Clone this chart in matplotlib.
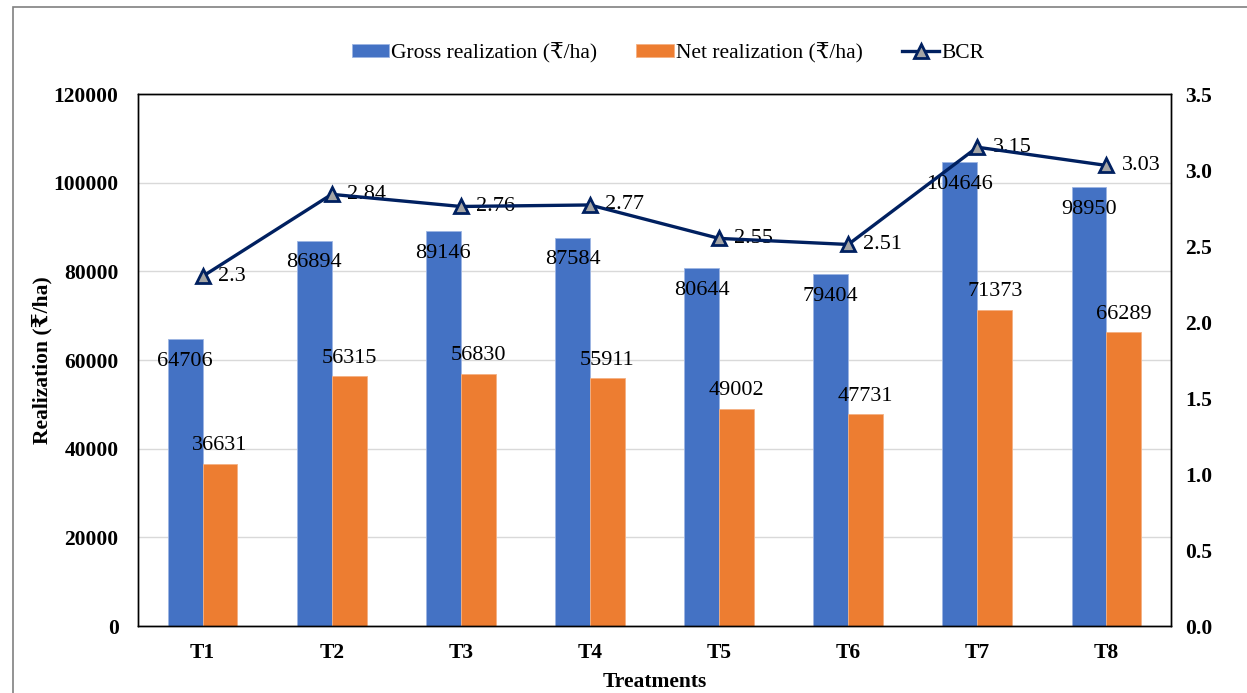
import matplotlib
matplotlib.use("Agg")
import matplotlib.pyplot as plt
import numpy as np
from matplotlib.patches import Rectangle

categories = ["T1", "T2", "T3", "T4", "T5", "T6", "T7", "T8"]
gross = [64706, 86894, 89146, 87584, 80644, 79404, 104646, 98950]
net = [36631, 56315, 56830, 55911, 49002, 47731, 71373, 66289]
bcr = [2.3, 2.84, 2.76, 2.77, 2.55, 2.51, 3.15, 3.03]
left_ticks = [0, 20000, 40000, 60000, 80000, 100000, 120000]
right_ticks = [0.0, 0.5, 1.0, 1.5, 2.0, 2.5, 3.0, 3.5]

FAM = ["Liberation Serif", "DejaVu Serif", "DejaVu Sans"]
plt.rcParams["font.family"] = FAM

BLUE = "#4472C4"
ORANGE = "#ED7D31"
NAVY = "#002060"
FS = 15.5

fig = plt.figure(figsize=(12.47, 6.93), dpi=100)
ax = fig.add_axes([138/1247, 1-626/693, (1171-138)/1247, (626-94)/693])
ax2 = ax.twinx()

x = np.arange(len(categories))
w = 0.27
b1 = ax.bar(x - w/2, gross, w, color=BLUE, edgecolor="#9DB5E3", linewidth=0.6,
            label="Gross realization (₹/ha)", zorder=2)
b2 = ax.bar(x + w/2, net, w, color=ORANGE, edgecolor="#F4B183", linewidth=0.6,
            label="Net realization (₹/ha)", zorder=2)

for xi, v in zip(x, gross):
    ax.annotate(f"{v}", (xi - w/2, v), xytext=(0, -16), textcoords="offset points",
                ha="center", va="center", fontsize=16, color="black", zorder=5)
for xi, v in zip(x, net):
    ax.annotate(f"{v}", (xi + w/2, v), xytext=(0, 13), textcoords="offset points",
                ha="center", va="center", fontsize=16, color="black", zorder=5)

ln, = ax2.plot(x, bcr, color=NAVY, linewidth=2.4, marker="^", markersize=10,
               markerfacecolor="#A5A5A5", markeredgecolor=NAVY, markeredgewidth=2,
               label="BCR", zorder=4)
for xi, v in zip(x, bcr):
    ax2.annotate(f"{v:g}", (xi, v), xytext=(11, 0), textcoords="offset points",
                 ha="left", va="center", fontsize=16, color="black")

ax.set_xlim(-0.5, len(categories) - 0.5)
ax.set_ylim(0, 120000)
ax2.set_ylim(0, 3.5)
ax.set_yticks(left_ticks)
ax.set_yticklabels([str(t) for t in left_ticks])
ax2.set_yticks(right_ticks)
ax2.set_yticklabels([f"{t:.1f}" for t in right_ticks])
ax.set_xticks(x)
ax.set_xticklabels(categories)

ax.yaxis.grid(True, color="#D9D9D9", linewidth=1)
ax.set_axisbelow(True)
ax.tick_params(axis="y", length=0, pad=14, labelsize=FS)
ax2.tick_params(axis="y", length=0, pad=10, labelsize=FS)
ax.tick_params(axis="x", length=0, pad=12, labelsize=FS)
for lab in ax.get_yticklabels() + ax.get_xticklabels() + ax2.get_yticklabels():
    lab.set_fontweight("bold")

for sp in list(ax.spines.values()) + list(ax2.spines.values()):
    sp.set_color("black")
    sp.set_linewidth(1)

ax.set_ylabel("Realization (₹/ha)", fontsize=FS, fontweight="bold", labelpad=1)
ax2.set_ylabel("BCR", fontsize=FS, fontweight="bold", labelpad=30)
ax.set_xlabel("Treatments", fontsize=FS, fontweight="bold", labelpad=7)

fig.legend(handles=[b1, b2, ln], loc="center", bbox_to_anchor=(668/1247, 1-53/693),
           ncol=3, frameon=False, fontsize=FS, handlelength=1.75, handleheight=0.5,
           columnspacing=1.8, handletextpad=0.1)

fig.patches.append(Rectangle((13/1247, -0.05), 1.2, 1.05 - 7/693, transform=fig.transFigure,
                             fill=False, edgecolor="#808080", linewidth=1.2))

fig.savefig("out.png", dpi=100)
